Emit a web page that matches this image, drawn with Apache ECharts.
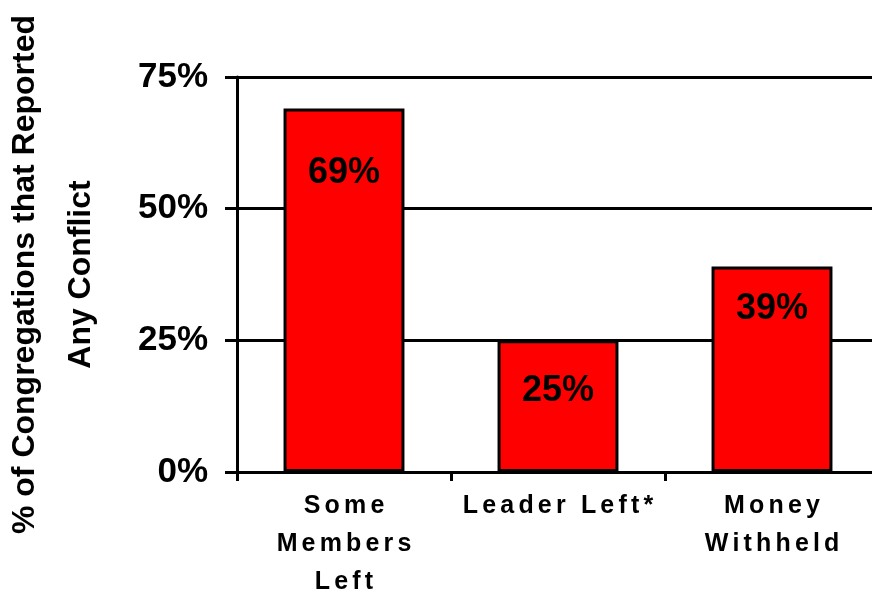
<!DOCTYPE html>
<html>
<head>
<meta charset="utf-8">
<script src="https://cdn.jsdelivr.net/npm/echarts@6/dist/echarts.min.js"></script>
<style>
html,body{margin:0;padding:0;background:#fff;}
#chart{width:872px;height:593px;}
</style>
</head>
<body>
<div id="chart"></div>
<script>
const categories = ["Some\nMembers\nLeft", "Leader Left*", "Money\nWithheld"];
const values = [69, 25, 39];
const yTicks = [0, 25, 50, 75];
const axisTitle = "% of Congregations that Reported\nAny Conflict";

const labelDistances = [46, 33, 24];
const FONT = "Liberation Sans";

function spaced(s) {
  return s.split("\n").map(line => Array.from(line).join("\u2006")).join("\n");
}

const chart = echarts.init(document.getElementById('chart'), null, {renderer: 'canvas'});
chart.setOption({
  animation: false,
  backgroundColor: '#ffffff',
  grid: {left: 237, right: -7, top: 77, bottom: 121, containLabel: false, outerBoundsMode: 'none'},
  xAxis: {
    type: 'category',
    data: categories,
    axisLine: {show: true, lineStyle: {color: '#000', width: 3}},
    axisTick: {show: true, alignWithLabel: false, length: 9, lineStyle: {color: '#000', width: 3}},
    axisLabel: {
      interval: 0, margin: 15, color: '#000', fontFamily: FONT, fontWeight: 'bold',
      fontSize: 25, lineHeight: 38, formatter: v => spaced(v)
    },
    splitLine: {show: false}
  },
  yAxis: {
    type: 'value',
    min: yTicks[0], max: yTicks[yTicks.length - 1], interval: 25,
    name: axisTitle,
    nameLocation: 'middle',
    nameRotate: 90,
    nameGap: 128,
    nameTextStyle: {color: '#000', fontFamily: FONT, fontWeight: 'bold', fontSize: 32, lineHeight: 56},
    axisLine: {show: true, lineStyle: {color: '#000', width: 3}},
    axisTick: {show: true, inside: false, length: 12, lineStyle: {color: '#000', width: 3}},
    axisLabel: {margin: 29, color: '#000', fontFamily: FONT, fontWeight: 'bold', fontSize: 35,
      formatter: v => v + '%'},
    splitLine: {show: true, lineStyle: {color: '#000', width: 3}}
  },
  series: [{
    type: 'bar',
    barWidth: '56.5%',
    data: values.map((v, i) => ({
      value: v,
      label: {distance: labelDistances[i]}
    })),
    itemStyle: {color: '#ff0000', borderColor: '#000', borderWidth: 3},
    label: {
      show: true, position: 'insideTop', color: '#000', fontFamily: FONT,
      fontWeight: 'bold', fontSize: 36, formatter: p => p.value + '%'
    }
  }]
});
</script>
</body>
</html>
